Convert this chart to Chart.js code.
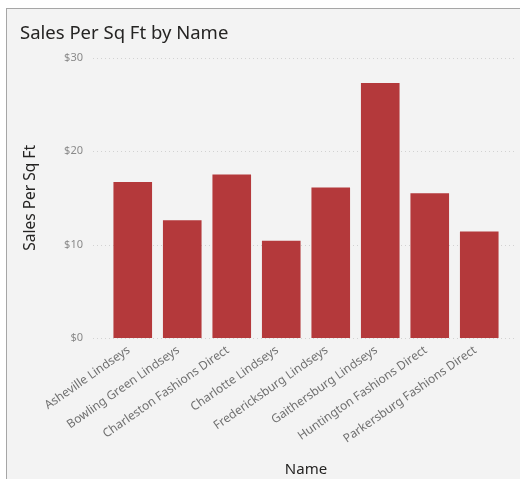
<!DOCTYPE html>
<html>
<head>
<meta charset="UTF-8">
<title>Sales Per Sq Ft by Name</title>
<script src="https://cdn.jsdelivr.net/npm/chart.js@4.4.0/dist/chart.umd.min.js"></script>
<style>
    body { margin: 0; background: #fff; overflow: hidden; }
    .panel {
        position: absolute; left: 6px; top: 8px; width: 530px; height: 490px;
        background: #f3f3f3;
        border-left: 1px solid #a6a6a6;
        border-top: 1px solid #a6a6a6;
    }
    #chart { position: absolute; left: 0; top: 0; }
</style>
</head>
<body>
<div class="panel"></div>
<canvas id="chart" width="520" height="479"></canvas>
<script>
    const names = ['Asheville Lindseys', 'Bowling Green Lindseys', 'Charleston Fashions Direct',
        'Charlotte Lindseys', 'Fredericksburg Lindseys', 'Gaithersburg Lindseys',
        'Huntington Fashions Direct', 'Parkersburg Fashions Direct'];
    const salesPerSqFt = [16.7, 12.6, 17.5, 10.4, 16.1, 27.3, 15.5, 11.4];
    const yTicks = [0, 10, 20, 30];

    const fontFamily = '"Segoe UI", "Noto Sans", sans-serif';

    // dotted gridlines that run a little past the plot area, like the original
    const dottedGrid = {
        id: 'dottedGrid',
        beforeDatasetsDraw(chart) {
            const ctx = chart.ctx;
            const y = chart.scales.y;
            ctx.save();
            ctx.strokeStyle = '#d2d2d2';
            ctx.lineWidth = 1;
            ctx.setLineDash([1, 3]);
            y.ticks.forEach(t => {
                const py = Math.round(y.getPixelForValue(t.value)) + 0.5;
                ctx.beginPath();
                ctx.moveTo(93, py);
                ctx.lineTo(516, py);
                ctx.stroke();
            });
            ctx.restore();
        }
    };

    new Chart(document.getElementById('chart'), {
        type: 'bar',
        data: {
            labels: names,
            datasets: [{
                label: 'Sales Per Sq Ft',
                data: salesPerSqFt,
                backgroundColor: '#b4393b',
                barPercentage: 0.78,
                categoryPercentage: 1
            }]
        },
        options: {
            responsive: false,
            animation: false,
            layout: { padding: { left: 20, right: 16, top: 0, bottom: 0 } },
            plugins: {
                legend: { display: false },
                tooltip: { enabled: false },
                title: {
                    display: true,
                    text: 'Sales Per Sq Ft by Name',
                    align: 'start',
                    color: '#252423',
                    font: { family: fontFamily, size: 18.5, weight: 'normal' },
                    padding: { top: 23, bottom: 12.5 }
                }
            },
            scales: {
                y: {
                    min: 0,
                    max: 30,
                    afterFit(scale) { scale.width = 88; },
                    afterBuildTicks(scale) { scale.ticks = yTicks.map(v => ({ value: v })); },
                    grid: { display: false, drawTicks: false },
                    border: { display: false },
                    ticks: {
                        padding: 25,
                        color: '#8a8a8a',
                        font: { family: fontFamily, size: 11 },
                        callback: v => '$' + v
                    },
                    title: {
                        display: true,
                        text: 'Sales Per Sq Ft',
                        color: '#252423',
                        font: { family: fontFamily, size: 15.5 },
                        padding: { top: 1, bottom: 0 }
                    }
                },
                x: {
                    afterFit(scale) { scale.height = 141; },
                    grid: { display: false, drawTicks: false },
                    border: { display: false },
                    ticks: {
                        autoSkip: false,
                        minRotation: 35,
                        maxRotation: 35,
                        padding: 5,
                        labelOffset: -4,
                        color: '#707070',
                        font: { family: fontFamily, size: 12 }
                    },
                    title: {
                        display: true,
                        text: 'Name',
                        color: '#252423',
                        font: { family: fontFamily, size: 15 },
                        padding: { top: 0, bottom: 0 }
                    }
                }
            }
        },
        plugins: [dottedGrid]
    });
</script>
</body>
</html>
